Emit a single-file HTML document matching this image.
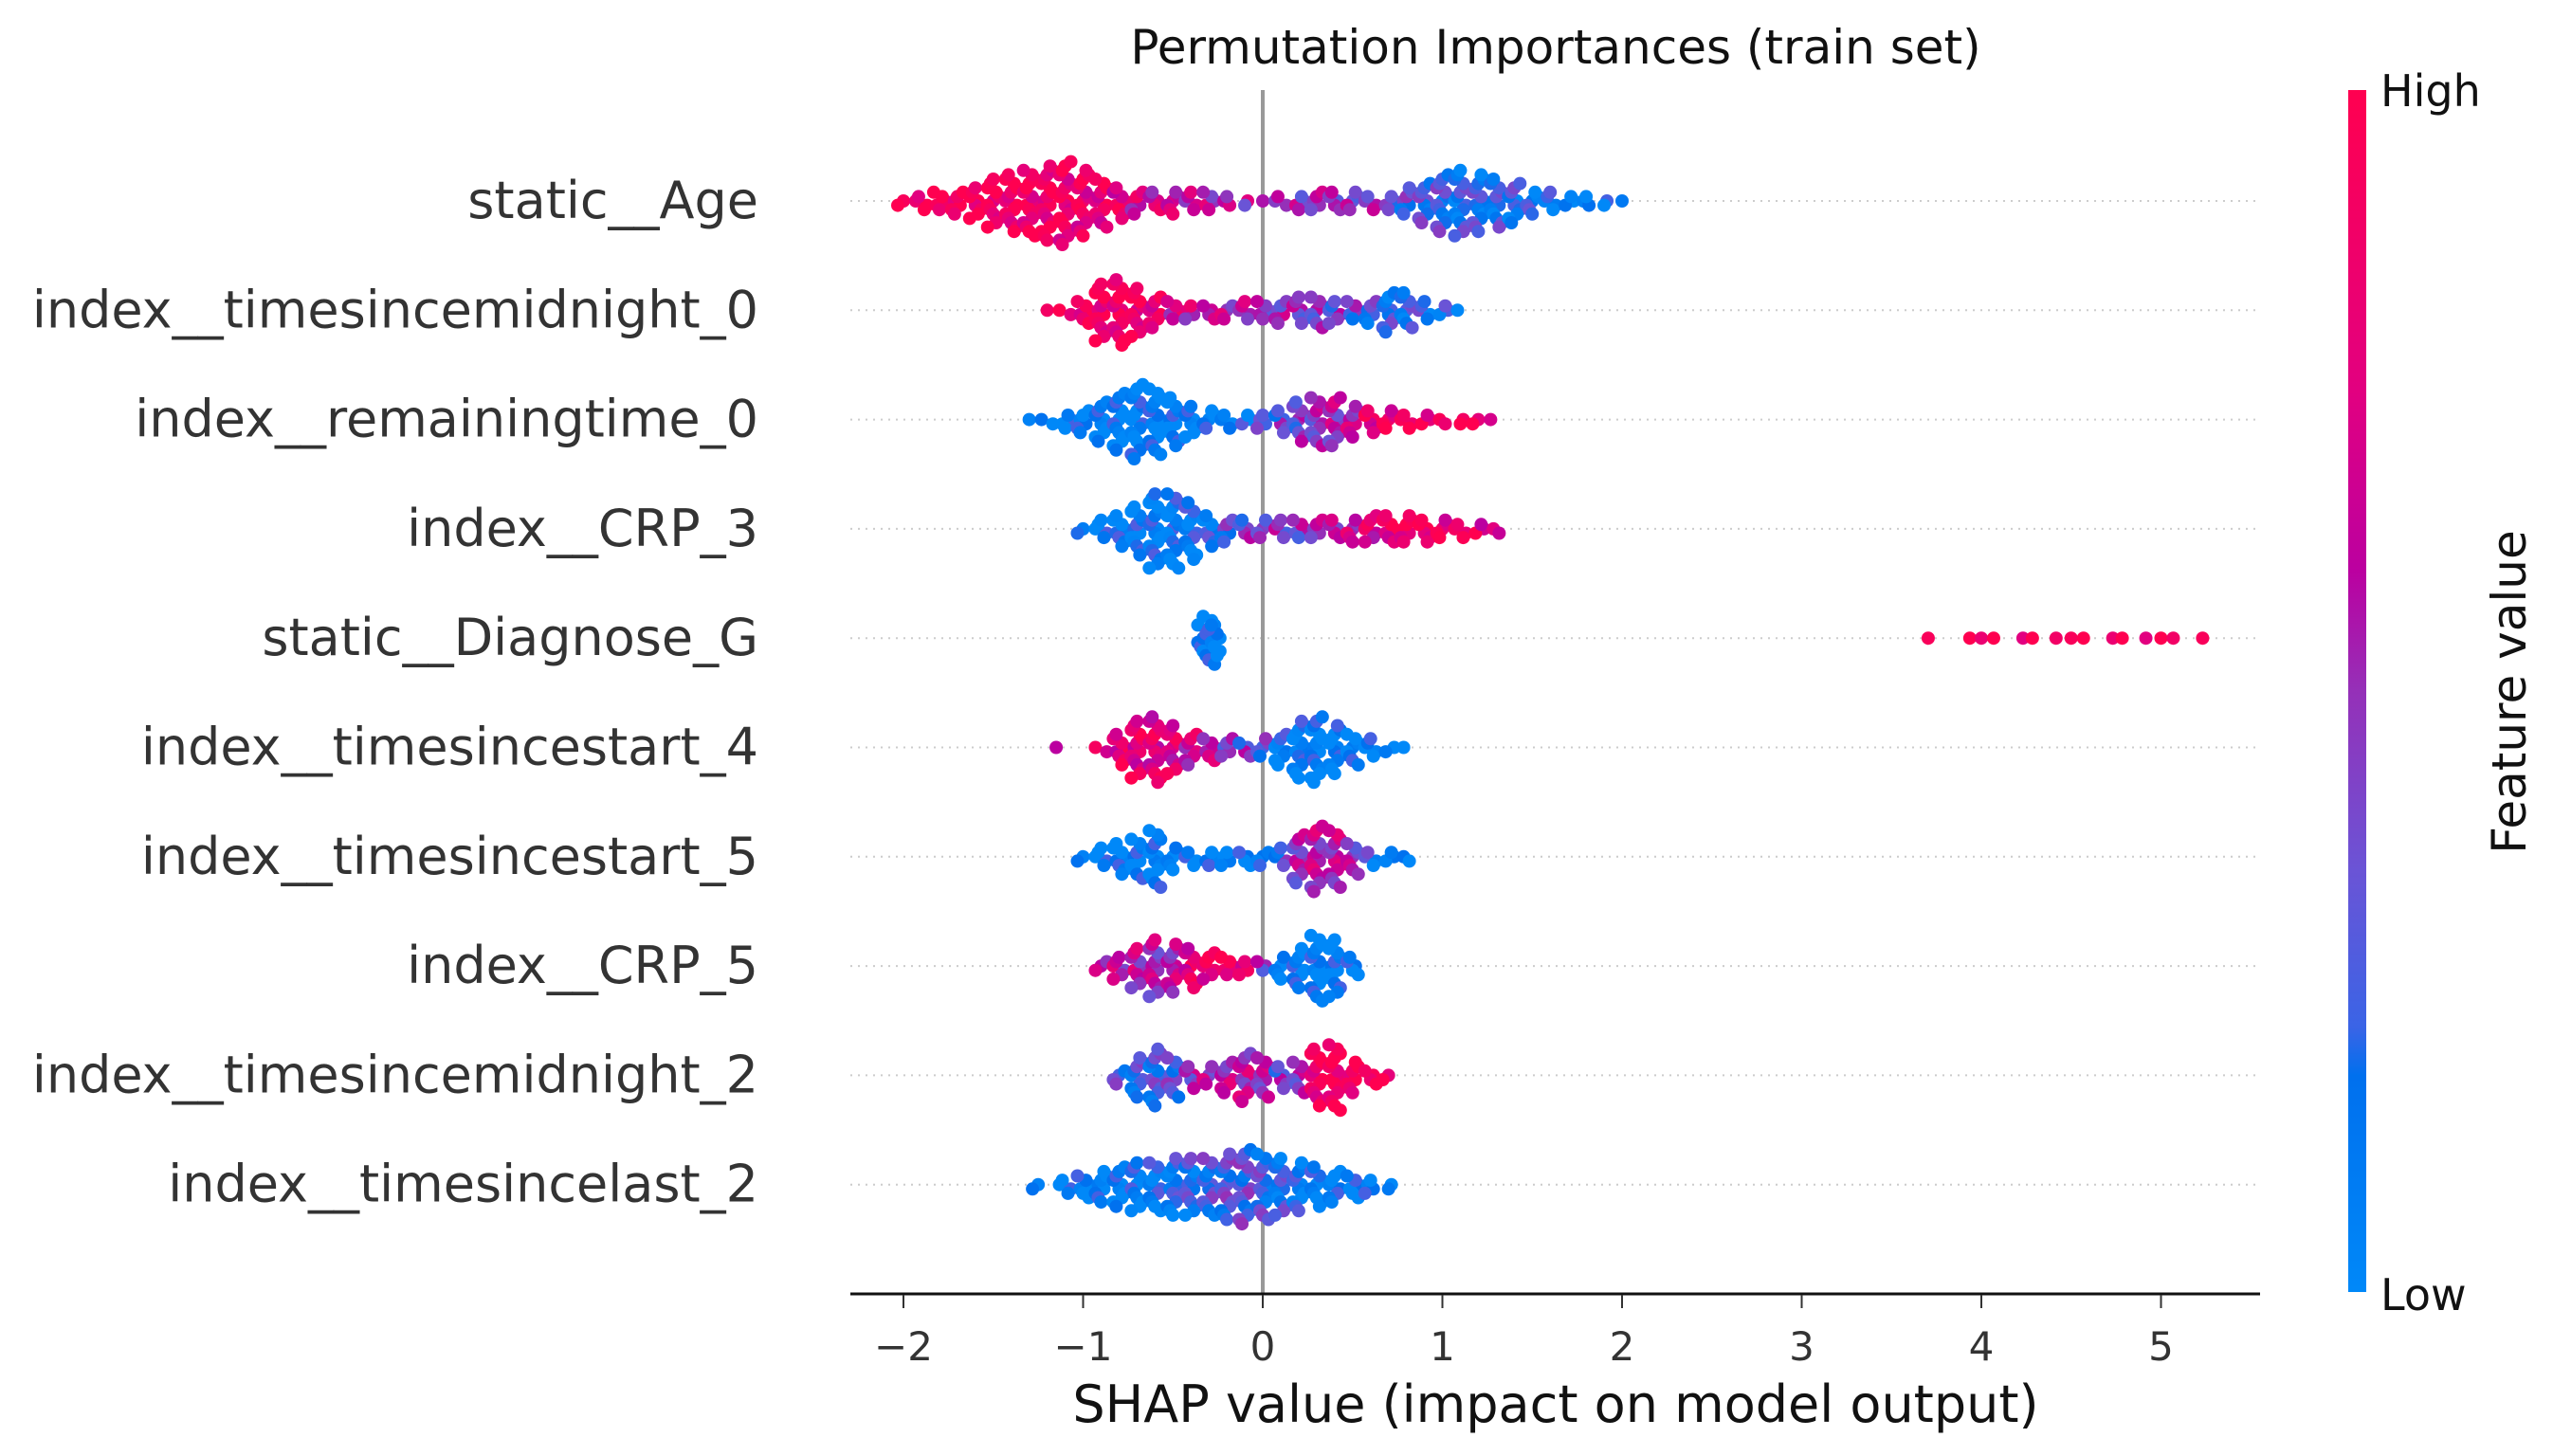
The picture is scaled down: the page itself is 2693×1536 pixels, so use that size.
<!DOCTYPE html>
<html><head><meta charset="utf-8"><style>
html,body{margin:0;padding:0;background:#fff}
svg{display:block;font-family:"DejaVu Sans","Liberation Sans",sans-serif}
</style></head><body>
<svg id="chart" width="2693" height="1536" viewBox="0 0 2693 1536" xmlns="http://www.w3.org/2000/svg">
<defs>
<linearGradient id="cmap" x1="0" y1="1" x2="0" y2="0">
<stop offset="0" stop-color="#0088f8"/><stop offset="0.18" stop-color="#0070ee"/>
<stop offset="0.22" stop-color="#3a64e6"/><stop offset="0.35" stop-color="#6a54d6"/>
<stop offset="0.5" stop-color="#9530b8"/><stop offset="0.6" stop-color="#bb00a0"/>
<stop offset="0.75" stop-color="#e20080"/><stop offset="1" stop-color="#ff0050"/>
</linearGradient>
</defs>
<text x="1641" y="67" font-size="50" text-anchor="middle" fill="#111">Permutation Importances (train set)</text>
<g id="grid"></g>
<line id="zero" y1="95" y2="1365" stroke="#999" stroke-width="4"/>
<g id="dots"></g>
<g id="ylabels"></g>
<line x1="897" x2="2384" y1="1365" y2="1365" stroke="#111" stroke-width="3"/>
<g id="xticks"></g>
<text x="1641" y="1500" font-size="54" text-anchor="middle" fill="#111">SHAP value (impact on model output)</text>
<rect x="2477" y="95" width="19" height="1268" fill="url(#cmap)"/>
<text x="2511" y="112" font-size="46" fill="#111">High</text>
<text x="2511" y="1382" font-size="46" fill="#111">Low</text>
<text transform="translate(2664,730) rotate(-90)" font-size="50" text-anchor="middle" fill="#111">Feature value</text>
</svg>
<script>
const features = ["static__Age","index__timesincemidnight_0","index__remainingtime_0","index__CRP_3","static__Diagnose_G","index__timesincestart_4","index__timesincestart_5","index__CRP_5","index__timesincemidnight_2","index__timesincelast_2"];
const xTicks = [-2,-1,0,1,2,3,4,5];
const age_x = [-2.0,-1.9,-1.8,-1.7,-1.6,-1.5,-1.4,-1.3,-1.2,-1.1,-1.0,-0.9,-0.8,-0.7,-0.6,-0.5,-0.4,-0.3,-0.2,-0.1,0,0.1,0.2,0.3,0.4,0.5,0.6,0.7,0.8,0.9,1.0,1.1,1.2,1.3,1.4,1.5,1.6,1.7,1.8,1.9,2.0];
const age_n = [2,4,5,6,8,12,14,16,18,20,16,12,8,6,5,6,5,5,3,2,1,3,4,5,5,5,4,4,7,10,14,16,14,12,10,6,5,3,3,2,1];
const age_c = [.95,.95,.95,.95,.95,.92,.92,.9,.9,.88,.85,.85,.8,.7,.7,.65,.65,.6,.6,.55,.5,.5,.5,.5,.5,.45,.45,.4,.3,.25,.25,.2,.2,.2,.2,.15,.1,.1,.05,.05,.05];
const tm0_x = [-1.2,-1.1,-1.0,-0.9,-0.8,-0.7,-0.6,-0.5,-0.4,-0.3,-0.2,-0.1,0,0.1,0.2,0.3,0.4,0.5,0.6,0.7,0.8,0.9,1.0,1.1];
const tm0_n = [1,2,6,14,16,12,8,5,4,4,4,5,5,6,7,8,6,5,6,10,9,5,3,1];
const tm0_c = [.9,.9,.9,.9,.9,.88,.85,.7,.65,.6,.6,.55,.5,.5,.45,.45,.4,.35,.25,.2,.2,.2,.15,.15];
const rem_x = [-1.3,-1.2,-1.1,-1.0,-0.9,-0.8,-0.7,-0.6,-0.5,-0.4,-0.3,-0.2,-0.1,0,0.1,0.2,0.3,0.4,0.5,0.6,0.7,0.8,0.9,1.0,1.1,1.2,1.3];
const rem_n = [1,2,4,6,10,14,18,16,12,8,5,4,3,4,6,10,12,12,8,6,5,4,3,2,2,2,1];
const rem_c = [.05,.05,.05,.05,.05,.05,.05,.05,.05,.05,.05,.05,.1,.3,.35,.4,.5,.55,.6,.8,.85,.9,.9,.9,.9,.9,.9];
const crp3_x = [-1.0,-0.9,-0.8,-0.7,-0.6,-0.5,-0.4,-0.3,-0.2,-0.1,0,0.1,0.2,0.3,0.4,0.5,0.6,0.7,0.8,0.9,1.0,1.1,1.2,1.3];
const crp3_n = [2,5,8,12,18,18,14,8,6,5,5,5,5,5,5,6,7,7,7,6,5,4,3,2];
const crp3_c = [.08,.08,.08,.08,.08,.08,.1,.15,.3,.4,.4,.45,.45,.5,.6,.65,.75,.85,.9,.9,.85,.85,.8,.7];
const dg_x = [-0.33,-0.3,-0.27,3.72,3.92,4.0,4.1,4.2,4.3,4.4,4.5,4.6,4.7,4.8,4.9,5.0,5.1,5.2];
const dg_n = [8,12,8,1,1,1,1,1,1,1,1,1,1,1,1,1,1,1];
const dg_c = [.05,.05,.05,.95,.95,.95,.95,.95,.95,.95,.95,.95,.95,.95,.95,.95,.95,.95];
const ts4_x = [-1.15,-0.9,-0.8,-0.7,-0.6,-0.5,-0.4,-0.3,-0.2,-0.1,0,0.1,0.2,0.3,0.4,0.5,0.6,0.7,0.8];
const ts4_n = [1,2,8,14,16,12,8,6,5,4,5,8,14,16,12,8,5,2,1];
const ts4_c = [.6,.8,.8,.8,.78,.75,.7,.6,.45,.4,.3,.1,.08,.05,.05,.05,.05,.05,.05];
const ts5_x = [-1.0,-0.9,-0.8,-0.7,-0.6,-0.5,-0.4,-0.3,-0.2,-0.1,0,0.1,0.2,0.3,0.4,0.5,0.6,0.7,0.8];
const ts5_n = [2,5,8,10,14,6,4,4,4,4,4,5,12,16,14,8,4,3,2];
const ts5_c = [.05,.05,.05,.05,.05,.05,.05,.05,.05,.05,.1,.3,.5,.6,.6,.5,.2,.1,.05];
const crp5_x = [-0.9,-0.8,-0.7,-0.6,-0.5,-0.4,-0.3,-0.2,-0.1,0,0.1,0.2,0.3,0.4,0.5];
const crp5_n = [3,6,10,14,12,10,7,5,4,3,6,10,16,14,5];
const crp5_c = [.6,.6,.6,.55,.6,.8,.85,.85,.85,.4,.05,.05,.05,.05,.05];
const tm2_x = [-0.8,-0.7,-0.6,-0.5,-0.4,-0.3,-0.2,-0.1,0,0.1,0.2,0.3,0.4,0.5,0.6,0.7];
const tm2_n = [4,10,14,10,6,5,8,12,10,6,8,14,16,8,4,2];
const tm2_c = [.25,.25,.25,.3,.5,.55,.6,.6,.55,.4,.5,.9,.95,.95,.9,.9];
const tl2_x = [-1.25,-1.1,-1.0,-0.9,-0.8,-0.7,-0.6,-0.5,-0.4,-0.3,-0.2,-0.1,0,0.1,0.2,0.3,0.4,0.5,0.6,0.7];
const tl2_n = [2,4,6,8,10,12,12,14,14,14,16,18,16,14,12,10,8,6,4,2];
const tl2_c = [.05,.05,.05,.05,.05,.08,.1,.15,.2,.25,.3,.3,.25,.2,.1,.08,.05,.05,.05,.05];
const rowsX = [age_x,tm0_x,rem_x,crp3_x,dg_x,ts4_x,ts5_x,crp5_x,tm2_x,tl2_x];
const rowsN = [age_n,tm0_n,rem_n,crp3_n,dg_n,ts4_n,ts5_n,crp5_n,tm2_n,tl2_n];
const rowsC = [age_c,tm0_c,rem_c,crp3_c,dg_c,ts4_c,ts5_c,crp5_c,tm2_c,tl2_c];

const NS="http://www.w3.org/2000/svg";
const X0=1332, UNIT=189.5, Y0=212, DY=115.3;
const xs=v=>X0+v*UNIT, ys=i=>Y0+i*DY;
const stops=[[0,[0,136,248]],[.18,[0,112,238]],[.22,[58,100,230]],[.35,[106,84,214]],[.5,[149,48,184]],[.6,[187,0,160]],[.75,[226,0,128]],[1,[255,0,80]]];
function cmap(t){t=Math.max(0,Math.min(1,t));for(let i=1;i<stops.length;i++){if(t<=stops[i][0]){const a=stops[i-1],b=stops[i],f=(t-a[0])/(b[0]-a[0]);return `rgb(${a[1].map((v,k)=>Math.round(v+(b[1][k]-v)*f)).join(',')})`;}}return 'rgb(255,0,80)';}
function mk(tag,attrs,parent){const e=document.createElementNS(NS,tag);for(const k in attrs)e.setAttribute(k,attrs[k]);parent.appendChild(e);return e;}
document.getElementById('zero').setAttribute('x1',xs(0));
document.getElementById('zero').setAttribute('x2',xs(0));
const grid=document.getElementById('grid'),dots=document.getElementById('dots'),yl=document.getElementById('ylabels'),xt=document.getElementById('xticks');
const coff=[0,.12,-.12,.2,-.2,.06,-.06];
const xoff=[0,-6,6,-3,3];
features.forEach((f,i)=>{
  const y=ys(i);
  const g=mk('line',{x1:897,x2:2384,y1:y,y2:y,stroke:'#ccc','stroke-width':2,'stroke-dasharray':'2 6'},grid);
  
  
  const t=mk('text',{x:800,y:y+18,'font-size':54,'text-anchor':'end',fill:'#333'},yl);
  t.textContent=f;
  
  
  const X=rowsX[i],N=rowsN[i],C=rowsC[i];
  let p=0;
  X.forEach((v,j)=>{
    for(let k=0;k<N[j];k++){
      const off=(k%2?1:-1)*Math.ceil(k/2)*4.6;
      const c=mk('circle',{cx:xs(v)+xoff[(k+j)%5],cy:y+off,r:7,fill:cmap(C[j]+coff[p%7])},dots);
      
      
      p++;
    }
  });
});
xTicks.forEach(v=>{
  const l=mk('line',{x1:xs(v),x2:xs(v),y1:1366,y2:1380,stroke:'#333','stroke-width':2},xt);
  
  
  const t=mk('text',{x:xs(v),y:1435,'font-size':42,'text-anchor':'middle',fill:'#333'},xt);
  t.textContent=v<0?'\u2212'+(-v):String(v);
  
  
});
</script>
</body></html>
